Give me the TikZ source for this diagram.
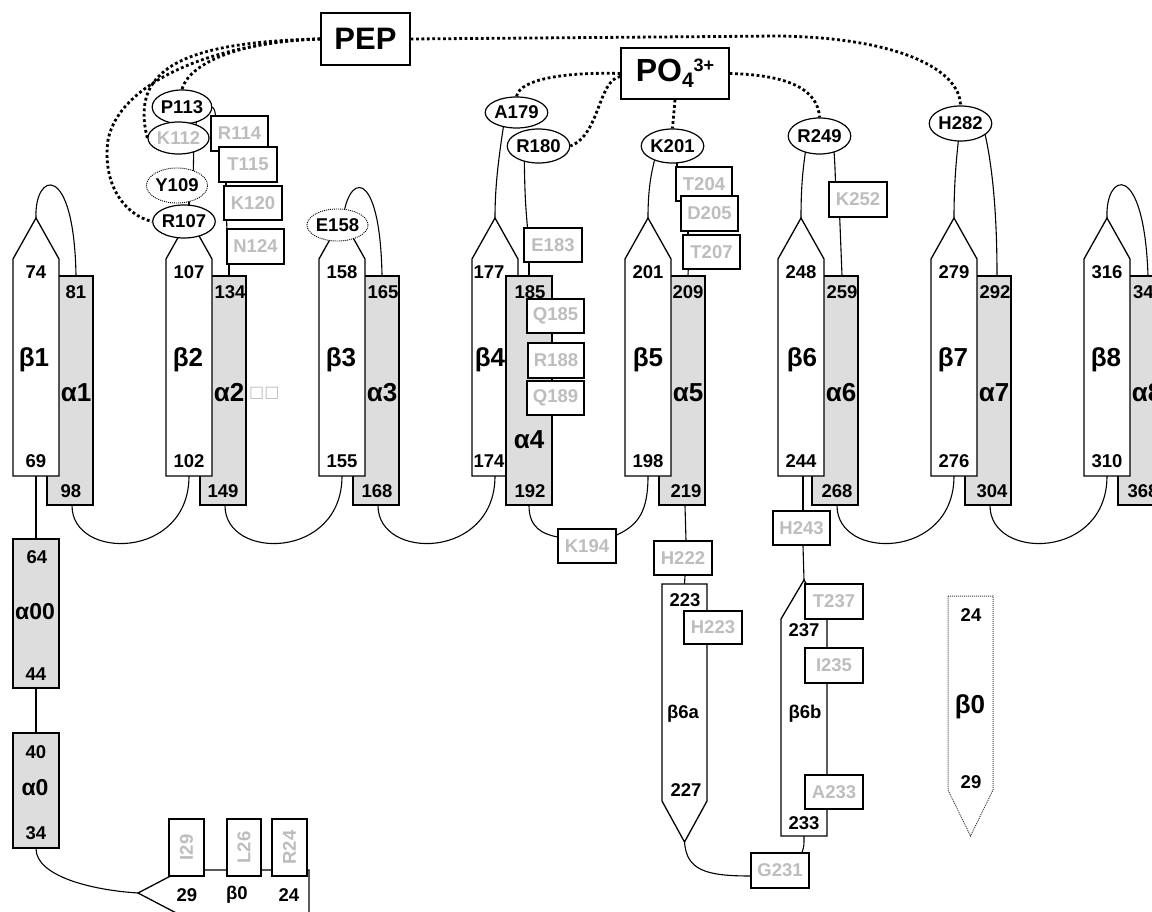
\documentclass[tikz,border=0pt]{standalone}
\usepackage{fontspec}
\setmainfont{Liberation Sans}
\newfontfamily\dejavu{DejaVu Sans}
\usetikzlibrary{shapes.geometric,calc}
\pgfdeclarelayer{back}
\pgfdeclarelayer{bg}
\pgfsetlayers{back,bg,main}
\definecolor{helixfill}{HTML}{DDDDDD}
\definecolor{resgray}{HTML}{BDBDBD}
\tikzset{
  helix/.style={draw, fill=helixfill, line width=1.3pt, rectangle, inner sep=0pt},
  strand/.style={draw, fill=white, line width=1.3pt, line join=miter},
  dotstrand/.style={draw=black!75, fill=white, line width=1pt, dash pattern=on 1pt off 1pt},
  resbox/.style={draw, fill=white, line width=1.3pt, rectangle, inner sep=0pt,
     minimum width=57pt, minimum height=34pt, text=resgray, font=\fontsize{18.5}{18.5}\selectfont\bfseries},
  resell/.style={draw, fill=white, line width=1.2pt, ellipse, inner sep=0pt,
     minimum width=58pt, minimum height=34pt, font=\fontsize{18.5}{18.5}\selectfont\bfseries},
  dotell/.style={resell, dash pattern=on 1pt off 1pt, line width=0.9pt},
  num/.style={font=\fontsize{18.5}{18.5}\selectfont\bfseries, inner sep=0pt},
  sslabel/.style={font=\fontsize{26}{26}\selectfont\bfseries, inner sep=0pt},
  smlabel/.style={font=\fontsize{18.5}{18.5}\selectfont\bfseries, inner sep=0pt},
  conn/.style={line width=1.1pt},
  hb/.style={line width=2.8pt, dash pattern=on 2.8pt off 2.6pt},
  bigbox/.style={draw, fill=white, line width=1.3pt, rectangle, inner sep=0pt},
}
\begin{document}
\begin{tikzpicture}[x=1pt,y=-1pt]
\useasboundingbox (0,0) rectangle (1152,912);
\begin{pgfonlayer}{back}
  \fill[white] (0,0) rectangle (1152,912);
\end{pgfonlayer}

% ---------- helices alpha1..alpha8 (alpha4 drawn later, above beta4) ----------
\foreach \k/\at/\ab/\dt/\db in {1/81/98/6/1, 2/134/149/7/0, 3/165/168/7/1,
                                5/209/219/6/4, 6/259/268/7/2, 7/292/304/7/4}{
  \pgfmathsetmacro\L{13+153*(\k-1)}
  \node[helix, minimum width=46pt, minimum height=229pt] (a\k) at (\L+57,390.5) {};
  \node[num] at (\L+57+\dt,292) {\at};
  \node[num] at (\L+57+\db,491) {\ab};
  \node[sslabel] at (\L+63,393) {α\k};
}
\node[helix, minimum width=46pt, minimum height=229pt] (a8) at (1141,390.5) {};
\node[num, anchor=west] at (1133,292) {34};
\node[num] at (1143,491) {368};
\node[sslabel] at (1147,393) {α8};
\node[font=\fontsize{16}{16}\selectfont\dejavu, text=resgray, inner sep=0pt, anchor=west] at (249,393) {□□};

% ---------- strands beta1..beta8 ----------
\foreach \k/\bt/\bb/\dl/\dn in {1/74/69/-2/0, 2/107/102/-1/0, 3/158/155/-1/0, 4/177/174/-5/-6,
                            5/201/198/0/0, 6/248/244/1/0, 7/279/276/-1/0, 8/316/310/-1/0}{
  \pgfmathsetmacro\L{13+153*(\k-1)}
  \draw[strand] (\L,476) -- (\L,259) -- (\L+23,218) -- (\L+46,259) -- (\L+46,476) -- cycle;
  \coordinate (b\k-tip) at (\L+23,218);
  \coordinate (b\k-bot) at (\L+23,476);
  \node[num] at (\L+23+\dn,272) {\bt};
  \node[num] at (\L+23+\dn,461) {\bb};
  \node[sslabel] at (\L+23+\dl,360) {β\k};
}

% alpha4 lies on top of beta4
\node[helix, minimum width=46pt, minimum height=229pt] (a4) at (529,390.5) {};
\node[num] at (530,292) {185};
\node[num] at (530,491) {192};
\node[sslabel] at (529,440) {α4};

% ---------- alpha00, alpha0 ----------
\node[helix, minimum width=46pt, minimum height=149pt] (a00) at (36,613.5) {};
\node[num] at (37,557) {64};
\node[font=\fontsize{23}{23}\selectfont\bfseries, inner sep=0pt] at (35,612) {α00};
\node[num] at (36,674) {44};
\node[helix, minimum width=46pt, minimum height=115pt] (a0) at (36,790.5) {};
\node[num] at (36,752) {40};
\node[font=\fontsize{23}{23}\selectfont\bfseries, inner sep=0pt] at (35,788) {α0};
\node[num] at (36,833) {34};

% ---------- beta0 (horizontal) ----------
\draw[strand] (138,893) -- (182,870) -- (309,870) -- (309,916) -- (182,916) -- cycle;
\coordinate (b0-tip) at (138,893);
\node[smlabel] at (187,895) {29};
\node[smlabel] at (237,895) {β0};
\node[smlabel] at (289,895) {24};
\node[resbox, minimum width=35pt, minimum height=57pt] (I29) at (186.5,847.5) {\rotatebox{90}{I29}};
\node[resbox, minimum width=34pt, minimum height=57pt] (L26) at (244,847.5) {\rotatebox{90}{L26}};
\node[resbox, minimum width=35pt, minimum height=57pt] (R24) at (289.5,847.5) {\rotatebox{90}{R24}};

% ---------- beta6a (down) and beta6b (up) ----------
\draw[strand] (662,584) -- (707,584) -- (707,801) -- (684.5,842) -- (662,801) -- cycle;
\coordinate (b6a-top) at (684.5,584);
\coordinate (b6a-tip) at (684.5,842);
\node[smlabel] at (685,600) {223};
\node[smlabel] at (683,714) {β6a};
\node[smlabel] at (686,790) {227};
\draw[strand] (781,836) -- (781,619) -- (804,580) -- (827,619) -- (827,836) -- cycle;
\coordinate (b6b-tip) at (804,580);
\coordinate (b6b-bot) at (804,836);
\node[smlabel] at (804,630) {237};
\node[smlabel] at (805,714) {β6b};
\node[smlabel] at (804,823) {233};

% ---------- beta0 (dotted, right) ----------
\draw[dotstrand] (948,596) -- (993,596) -- (993,790) -- (970.5,836) -- (948,790) -- cycle;
\node[smlabel] at (971,615) {24};
\node[sslabel] at (970,707) {β0};
\node[smlabel] at (971,782) {29};

% ---------- residue ellipses ----------
\node[resell] (P113) at (182,107) {P113};
\node[resell, text=resgray, minimum width=59pt, minimum height=32pt] (K112) at (178.5,138) {K112};
\node[dotell, minimum height=35pt] (Y109) at (177,185.5) {Y109};
\node[resell, minimum height=33pt] (R107) at (184,221.5) {R107};
\node[dotell, minimum width=57pt, minimum height=32pt] (E158) at (337.5,225) {E158};
\node[resell, minimum width=59pt, minimum height=31pt] (A179) at (516.5,112.5) {A179};
\node[resell, minimum width=57pt] (R180) at (538.5,146) {R180};
\node[resell, minimum width=59pt] (K201) at (672.5,146) {K201};
\node[resell, minimum width=57pt, minimum height=36pt] (R249) at (819.5,136) {R249};
\node[resell, minimum width=57pt, minimum height=35pt] (H282) at (960.5,123.5) {H282};

% ---------- residue boxes ----------
\node[resbox, minimum height=35pt] (R114) at (239.5,133.5) {R114};
\node[resbox, minimum width=58pt, minimum height=35pt] (T115) at (248,164.5) {T115};
\node[resbox, minimum width=58pt] (K120) at (253,203) {K120};
\node[resbox, minimum height=35pt] (N124) at (255.5,246.5) {N124};
\node[resbox, minimum width=58pt] (E183) at (553,245) {E183};
\node[resbox] (Q185) at (555.5,316) {Q185};
\node[resbox, minimum width=56pt, minimum height=35pt] (R188) at (556,360.5) {R188};
\node[resbox] (Q189) at (555.5,398) {Q189};
\node[resbox, minimum width=56pt] (T204) at (704,184) {T204};
\node[resbox, minimum height=35pt] (D205) at (709.5,213.5) {D205};
\node[resbox] (T207) at (711.5,252) {T207};
\node[resbox, minimum width=58pt, minimum height=35pt] (K252) at (858,199.5) {K252};
\node[resbox, minimum width=58pt] (K194) at (587,546) {K194};
\node[resbox, minimum width=58pt] (H222) at (683,558) {H222};
\node[resbox, minimum width=58pt, minimum height=33pt] (H223) at (713,627.5) {H223};
\node[resbox] (H243) at (801.5,528) {H243};
\node[resbox, minimum width=58pt, minimum height=35pt] (T237) at (834,601.5) {T237};
\node[resbox, minimum width=58pt, minimum height=35pt] (I235) at (834,665.5) {I235};
\node[resbox, minimum width=58pt] (A233) at (834,792) {A233};
\node[resbox, minimum width=58pt, minimum height=35pt] (G231) at (780,870.5) {G231};

% ---------- ligands ----------
\node[bigbox, minimum width=89pt, minimum height=52pt, font=\fontsize{31}{31}\selectfont\bfseries] (PEP) at (365.5,39) {PEP};
\node[bigbox, minimum width=108pt, minimum height=51pt, font=\fontsize{32}{32}\selectfont\bfseries] (PO4) at (675,73.5)
  {PO\raisebox{-6pt}{\fontsize{21}{21}\selectfont 4}\raisebox{10pt}{\fontsize{18}{18}\selectfont 3+}};

% ---------- connectors ----------
\begin{pgfonlayer}{bg}
% top loops
\draw[conn] (b1-tip) .. controls (34,172) and (74,160) .. ([xshift=6pt]a1.north);
\draw[conn] (b8-tip) .. controls +(-2,-46) and +(-4,-116) .. ([xshift=7pt]a8.north);
\draw[conn] ([xshift=5pt]E158.center) .. controls (346,172) and (380,164) .. ([xshift=6pt]a3.north);
% beta2 / alpha2 chain
\draw[conn] ([xshift=5pt]R107.center) -- ([xshift=12pt]Y109.center);
\draw[conn] ([xshift=16pt]Y109.center) -- ([xshift=15.5pt]K112.center);
\draw[conn] ([xshift=16pt]K112.center) -- ([xshift=16pt]P113.center);
\draw[conn] (P113.east) .. controls +(3,4) and +(-1,-5) .. ([xshift=-24pt]R114.north);
\draw[conn] ([xshift=-22pt]T115.center) -- ([xshift=-27pt]K120.center);
\draw[conn] ([xshift=-27pt]K120.center) -- ([xshift=-28pt]N124.center);
\draw[conn] ([xshift=-26.5pt]N124.center) -- ([xshift=6pt]a2.north);
% beta4 / alpha4
\draw[conn] (b4-tip) .. controls (495,180) and (500,150) .. ([xshift=-11pt]A179.center);
\draw[conn] ([xshift=-14.5pt]R180.center) .. controls (525,200) .. ([xshift=-24pt]E183.center);
\draw[conn] ([xshift=-24pt]E183.center) -- (a4.north);
% beta5 / alpha5
\draw[conn] (b5-tip) .. controls (648,185) and (652,168) .. ([xshift=-14pt]K201.center);
\draw[conn] ([xshift=4.5pt]K201.center) -- ([xshift=-27pt]T204.center);
\draw[conn] ([xshift=-21.5pt]D205.center) -- ([xshift=-23.5pt]T207.center);
\draw[conn] ([xshift=-22.5pt]T207.center) -- ([xshift=6pt]a5.north);
% beta6 / alpha6
\draw[conn] (b6-tip) .. controls (801,185) and (803,165) .. ([xshift=-11.5pt]R249.center);
\draw[conn] ([xshift=13.5pt]R249.center) .. controls (835,165) .. ([xshift=-22pt]K252.center);
\draw[conn] ([xshift=-19pt]K252.center) -- ([xshift=7pt]a6.north);
% beta7 / alpha7
\draw[conn] (b7-tip) .. controls (954,180) and (957,150) .. (H282.center);
\draw[conn] ([xshift=22pt]H282.center) .. controls (992,160) and (997,210) .. ([xshift=9pt]a7.north);
% bottom loops
\foreach \a/\b in {1/2,2/3,3/4,6/7,7/8}
  \draw[conn] ([xshift=2pt]a\a.south) .. controls +(0,55) and +(0,84) .. (b\b-bot);
\draw[conn] (a4.south) .. controls +(0,22) and +(-15,-3) .. ([yshift=9pt]K194.west);
\draw[conn] ([yshift=11pt]K194.east) .. controls +(22,-10) and +(0,35) .. (b5-bot);
\draw[conn] ([xshift=3pt]a5.south) -- ([xshift=3pt]H222.north);
\draw[conn] ([xshift=2pt]H222.south) -- (b6a-top);
\draw[conn] ([xshift=2pt]b6-bot) -- ([xshift=1.5pt]H243.north);
\draw[conn] ([xshift=1.5pt]H243.south) -- (b6b-tip);
\draw[conn] (b6a-tip) .. controls +(2,28) and +(-45,0) .. ([yshift=-5.5pt]G231.west);
\draw[conn] ([xshift=22pt]G231.north) .. controls +(2,-6) .. (b6b-bot);
\draw[conn] (b1-bot) -- (a00.north);
\draw[conn] (a00.south) -- (a0.north);
\draw[conn] (a0.south) .. controls +(0,27) and +(-48,-3) .. (b0-tip);
% interactions (dotted)
\draw[hb] (PEP.west) .. controls (250,40) and (190,60) .. (P113.north);
\draw[hb] (PEP.west) .. controls (180,42) and (130,70) .. (K112.west);
\draw[hb] (PEP.west) .. controls (220,42) and (120,80) .. (108,140) .. controls (102,185) and (125,215) .. (R107.west);
\draw[hb] (PEP.east) -- (780,36) .. controls (900,38) and (960,70) .. (H282.north);
\draw[hb] (PO4.west) .. controls (570,72) and (520,78) .. (A179.north);
\draw[hb] ([yshift=-3pt]PO4.west) .. controls (598,80) and (600,135) .. (R180.east);
\draw[hb] (PO4.south) -- (K201.north);
\draw[hb] (PO4.east) .. controls (790,75) and (818,90) .. (R249.north);
\end{pgfonlayer}
\end{tikzpicture}
\end{document}
